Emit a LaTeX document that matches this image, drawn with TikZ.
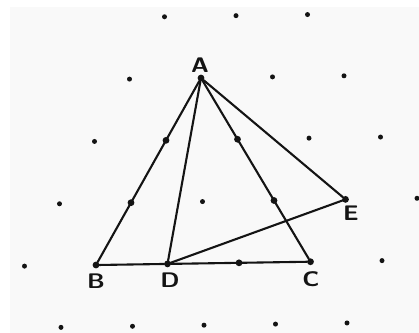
\documentclass[tikz,border=0pt]{standalone}
\usepackage{fontspec}
\usetikzlibrary{calc}
\definecolor{GridPaper}{gray}{0.975}
\definecolor{GridInk}{gray}{0.08}
\tikzset{
    grid/diagram/.style={
        x=0.5mm, y=-0.5mm,
        line cap=round,
        line join=round
    },
    grid/lattice/.style={
        shift={(201,78)},
        x={(35.75mm,0.55mm)}, y={(-17.5mm,-31.17mm)}
    },
    grid/dot/.style={circle, fill=GridInk, draw=none, inner sep=0pt, minimum size=2.5mm},
    grid/point/.style={circle, fill=GridInk, draw=none, inner sep=0pt, outer sep=0pt, minimum size=3.4mm},
    grid/segment/.style={draw=GridInk, line width=1.05mm},
    grid/label/.style={
        text=GridInk, inner sep=0pt, xscale=1.15,
        font=\sffamily\bfseries\fontsize{30}{30}\selectfont
    }
}

\begin{document}
\begin{tikzpicture}[grid/diagram]
    \fill[white] (0,0) rectangle (419,333);
    \fill[GridPaper] (10,7) rectangle (419,333);
    \useasboundingbox (0,0) rectangle (419,333);
    \begin{scope}[grid/lattice]
        % dotted paper
        \foreach \row/\first/\last in {-1/-1/1, 0/-1/2, 1/-1/3, 2/-1/4, 3/-1/4, 4/0/4}
            \foreach \col in {\first,...,\last}
                \node[grid/dot] (dot-\col-\row) at (\col,\row) {};
        % vertices
        \node[grid/point] (A) at (0,0) {};
        \node[grid/point] (B) at (0,3) {};
        \node[grid/point] (D) at (1,3) {};
        \node[grid/point] (C) at (3,3) {};
        \node[grid/point] (E) at (3,2) {};
        \draw[grid/segment] (A) -- (B) -- (D) -- (C) -- (A);
        \draw[grid/segment] (A) -- (D) -- (E) -- (A);
        % lattice points on the sides
        \node[grid/point] (ab1) at (0,1) {};
        \node[grid/point] (ab2) at (0,2) {};
        \node[grid/point] (ac1) at (1,1) {};
        \node[grid/point] (ac2) at (2,2) {};
        \node[grid/point] (bc1) at (2,3) {};
    \end{scope}
    \node[grid/label] (labA) at (200,65) {A};
    \node[grid/label] (labB) at (96,281) {B};
    \node[grid/label] (labD) at (170,280) {D};
    \node[grid/label] (labC) at (311,279) {C};
    \node[grid/label] (labE) at (351,213) {E};
\end{tikzpicture}
\end{document}
